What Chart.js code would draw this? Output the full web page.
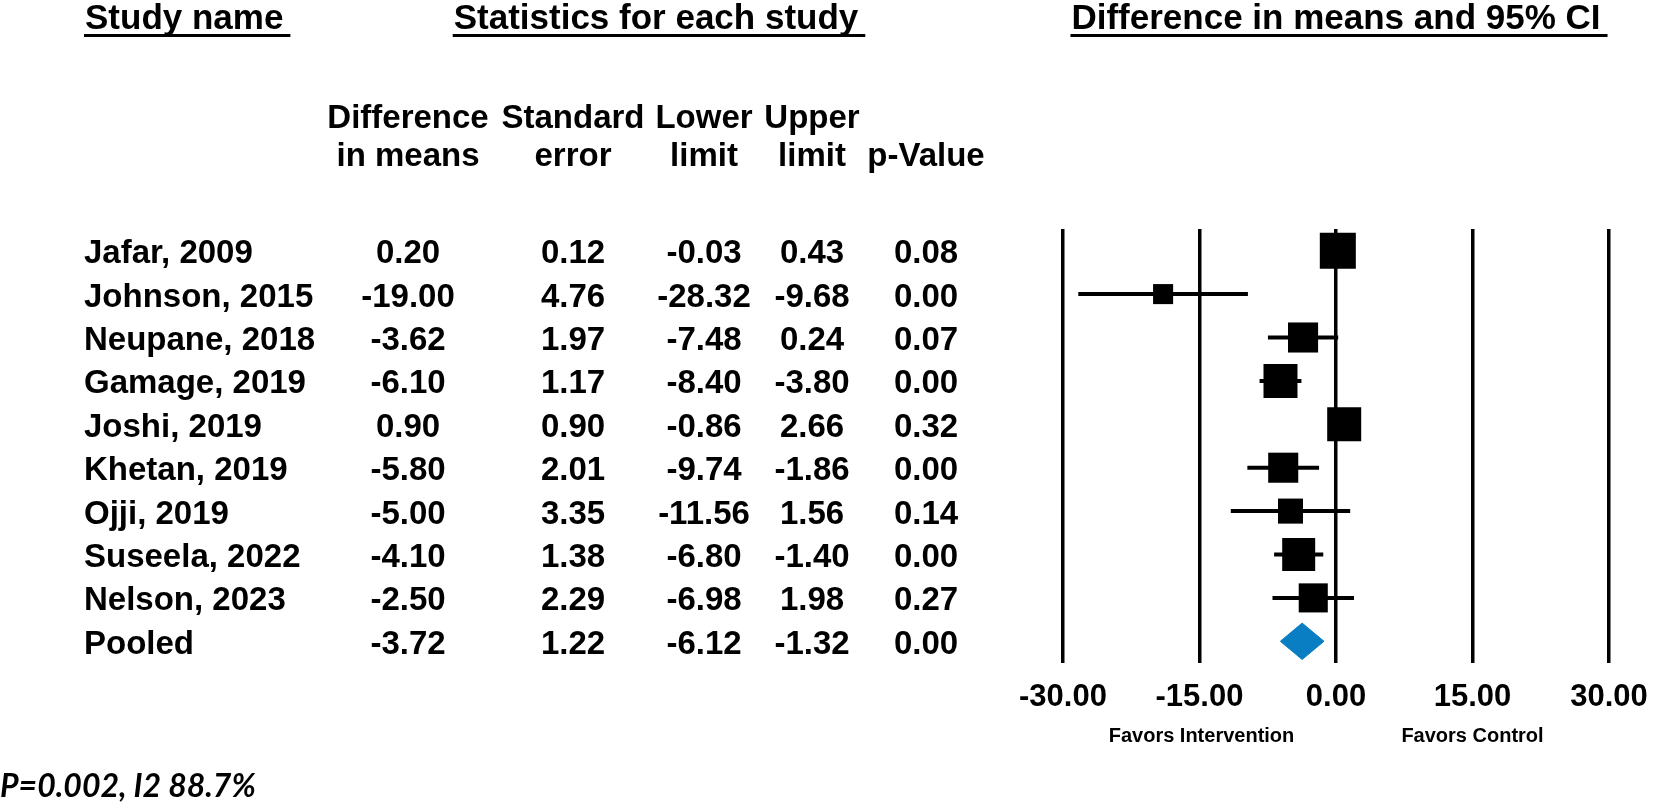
<!DOCTYPE html>
<html>
<head>
<meta charset="utf-8">
<title>Difference in means forest plot</title>
<script src="https://cdn.jsdelivr.net/npm/chart.js@4.4.1/dist/chart.umd.min.js"></script>
<style>
  html, body { margin: 0; padding: 0; background: #fff; }
  #wrap { position: relative; width: 1654px; height: 808px; }
</style>
</head>
<body>
<div id="wrap"><canvas id="forestChart"></canvas></div>
<script>
// rows of the table (last row is the pooled estimate)
const rowNames = ['Jafar, 2009', 'Johnson, 2015', 'Neupane, 2018', 'Gamage, 2019', 'Joshi, 2019',
                  'Khetan, 2019', 'Ojji, 2019', 'Suseela, 2022', 'Nelson, 2023', 'Pooled'];
const diffMeans   = [0.20, -19.00, -3.62, -6.10, 0.90, -5.80, -5.00, -4.10, -2.50, -3.72];
const stdErrors   = [0.12, 4.76, 1.97, 1.17, 0.90, 2.01, 3.35, 1.38, 2.29, 1.22];
const lowerLimits = [-0.03, -28.32, -7.48, -8.40, -0.86, -9.74, -11.56, -6.80, -6.98, -6.12];
const upperLimits = [0.43, -9.68, 0.24, -3.80, 2.66, -1.86, 1.56, -1.40, 1.98, -1.32];
const pValues     = [0.08, 0.00, 0.07, 0.00, 0.32, 0.00, 0.14, 0.00, 0.27, 0.00];
// relative study weights (%)
const weights     = [15.5, 4.8, 10.8, 13.8, 13.8, 10.8, 7.5, 13.0, 10.1];
const pooledIndex = 9;

const tickValues = [-30, -15, 0, 15, 30];
const tickLabels = ['-30.00', '-15.00', '0.00', '15.00', '30.00'];

const headerTitles = ['Study name', 'Statistics for each study', 'Difference in means and 95% CI'];
const columnTop    = ['Difference', 'Standard', 'Lower', 'Upper', ''];
const columnBottom = ['in means', 'error', 'limit', 'limit', 'p-Value'];
const favorsLabels = ['Favors Intervention', 'Favors Control'];
const heterogeneityNote = 'P=0.002, I2 88.7%';

const FONT = '"Liberation Sans", Arial, sans-serif';
const colX = [408, 573, 704, 812, 926];
const boxScale = 9.15;           // px of box side per sqrt(weight)
const diamondHalf = 0.42;        // in row units
const diamondColor = '#0a7ec2';

const studyCount = pooledIndex;
const studyRows = rowNames.slice(0, studyCount);

function boxRadius(ctx) {
    const side = Math.sqrt(weights[ctx.dataIndex]) * boxScale;
    return side / (2 * Math.SQRT1_2);
}

const datasets = [];

// squares at the point estimates
datasets.push({
    type: 'scatter',
    data: studyRows.map((_, i) => ({ x: diffMeans[i], y: i })),
    pointStyle: 'rect',
    pointRadius: boxRadius,
    pointHoverRadius: boxRadius,
    backgroundColor: '#000',
    borderWidth: 0
});

// pooled diamond
datasets.push({
    type: 'scatter',
    showLine: true,
    data: [
        { x: lowerLimits[pooledIndex], y: pooledIndex },
        { x: diffMeans[pooledIndex], y: pooledIndex - diamondHalf },
        { x: upperLimits[pooledIndex], y: pooledIndex },
        { x: diffMeans[pooledIndex], y: pooledIndex + diamondHalf },
        { x: lowerLimits[pooledIndex], y: pooledIndex }
    ],
    fill: 'shape',
    backgroundColor: diamondColor,
    borderColor: diamondColor,
    borderWidth: 1,
    pointRadius: 0,
    tension: 0
});

// confidence interval lines
studyRows.forEach((_, i) => {
    datasets.push({
        type: 'scatter',
        showLine: true,
        data: [{ x: lowerLimits[i], y: i }, { x: upperLimits[i], y: i }],
        borderColor: '#000',
        borderWidth: 4,
        pointRadius: 0,
        fill: false
    });
});

function underlined(ctx, text, x, y, align) {
    ctx.textAlign = align;
    ctx.fillText(text, x, y);
    const w = ctx.measureText(text).width;
    let left = x;
    if (align === 'center') left = x - w / 2;
    if (align === 'right') left = x - w;
    ctx.fillRect(left - 1, y + 5, w + 8, 3);
}

const tablePlugin = {
    id: 'forestTable',
    afterDraw(chart) {
        const { ctx, chartArea, scales: { x, y } } = chart;
        ctx.save();
        ctx.fillStyle = '#000';
        ctx.textBaseline = 'alphabetic';

        // section headers
        ctx.font = 'bold 35px ' + FONT;
        underlined(ctx, headerTitles[0], 85, 29, 'left');
        underlined(ctx, headerTitles[1], 656, 29, 'center');
        underlined(ctx, headerTitles[2], x.getPixelForValue(0), 29, 'center');

        // column headers
        ctx.font = 'bold 33px ' + FONT;
        ctx.textAlign = 'center';
        colX.forEach((cx, c) => {
            if (columnTop[c]) ctx.fillText(columnTop[c], cx, 128);
            ctx.fillText(columnBottom[c], cx, 166);
        });

        // table rows
        rowNames.forEach((name, i) => {
            const by = y.getPixelForValue(i) + 12.5;
            ctx.textAlign = 'left';
            ctx.fillText(name, 84, by);
            ctx.textAlign = 'center';
            [diffMeans[i], stdErrors[i], lowerLimits[i], upperLimits[i], pValues[i]].forEach((v, c) => {
                ctx.fillText(v.toFixed(2), colX[c], by);
            });
        });

        // x axis tick labels, placed with the x scale
        ctx.font = 'bold 31px ' + FONT;
        ctx.textAlign = 'center';
        tickValues.forEach((v, i) => {
            ctx.fillText(tickLabels[i], x.getPixelForValue(v), chartArea.bottom + 43);
        });

        // favors labels under the axis
        ctx.font = 'bold 20px ' + FONT;
        ctx.fillText(favorsLabels[0], x.getPixelForValue(-15) + 2, 742);
        ctx.fillText(favorsLabels[1], x.getPixelForValue(15), 742);

        // heterogeneity note
        ctx.font = 'italic bold 32px Lato, "Open Sans", sans-serif';
        ctx.textAlign = 'left';
        ctx.fillText(heterogeneityNote, 0, 797);
        ctx.restore();
    }
};

new Chart(document.getElementById('forestChart'), {
    type: 'scatter',
    data: { datasets: datasets },
    options: {
        responsive: true,
        maintainAspectRatio: false,
        animation: false,
        events: [],
        layout: { padding: { left: 1063, right: 45, top: 229, bottom: 145 } },
        plugins: {
            legend: { display: false },
            tooltip: { enabled: false }
        },
        scales: {
            x: {
                type: 'linear',
                min: -30,
                max: 30,
                afterBuildTicks: axis => { axis.ticks = tickValues.map(v => ({ value: v })); },
                ticks: { display: false },
                grid: { color: '#000', lineWidth: 3.5, drawTicks: false },
                border: { display: false }
            },
            y: {
                type: 'linear',
                min: -0.5,
                max: 9.5,
                reverse: true,
                display: false
            }
        }
    },
    plugins: [tablePlugin]
});
</script>
</body>
</html>
